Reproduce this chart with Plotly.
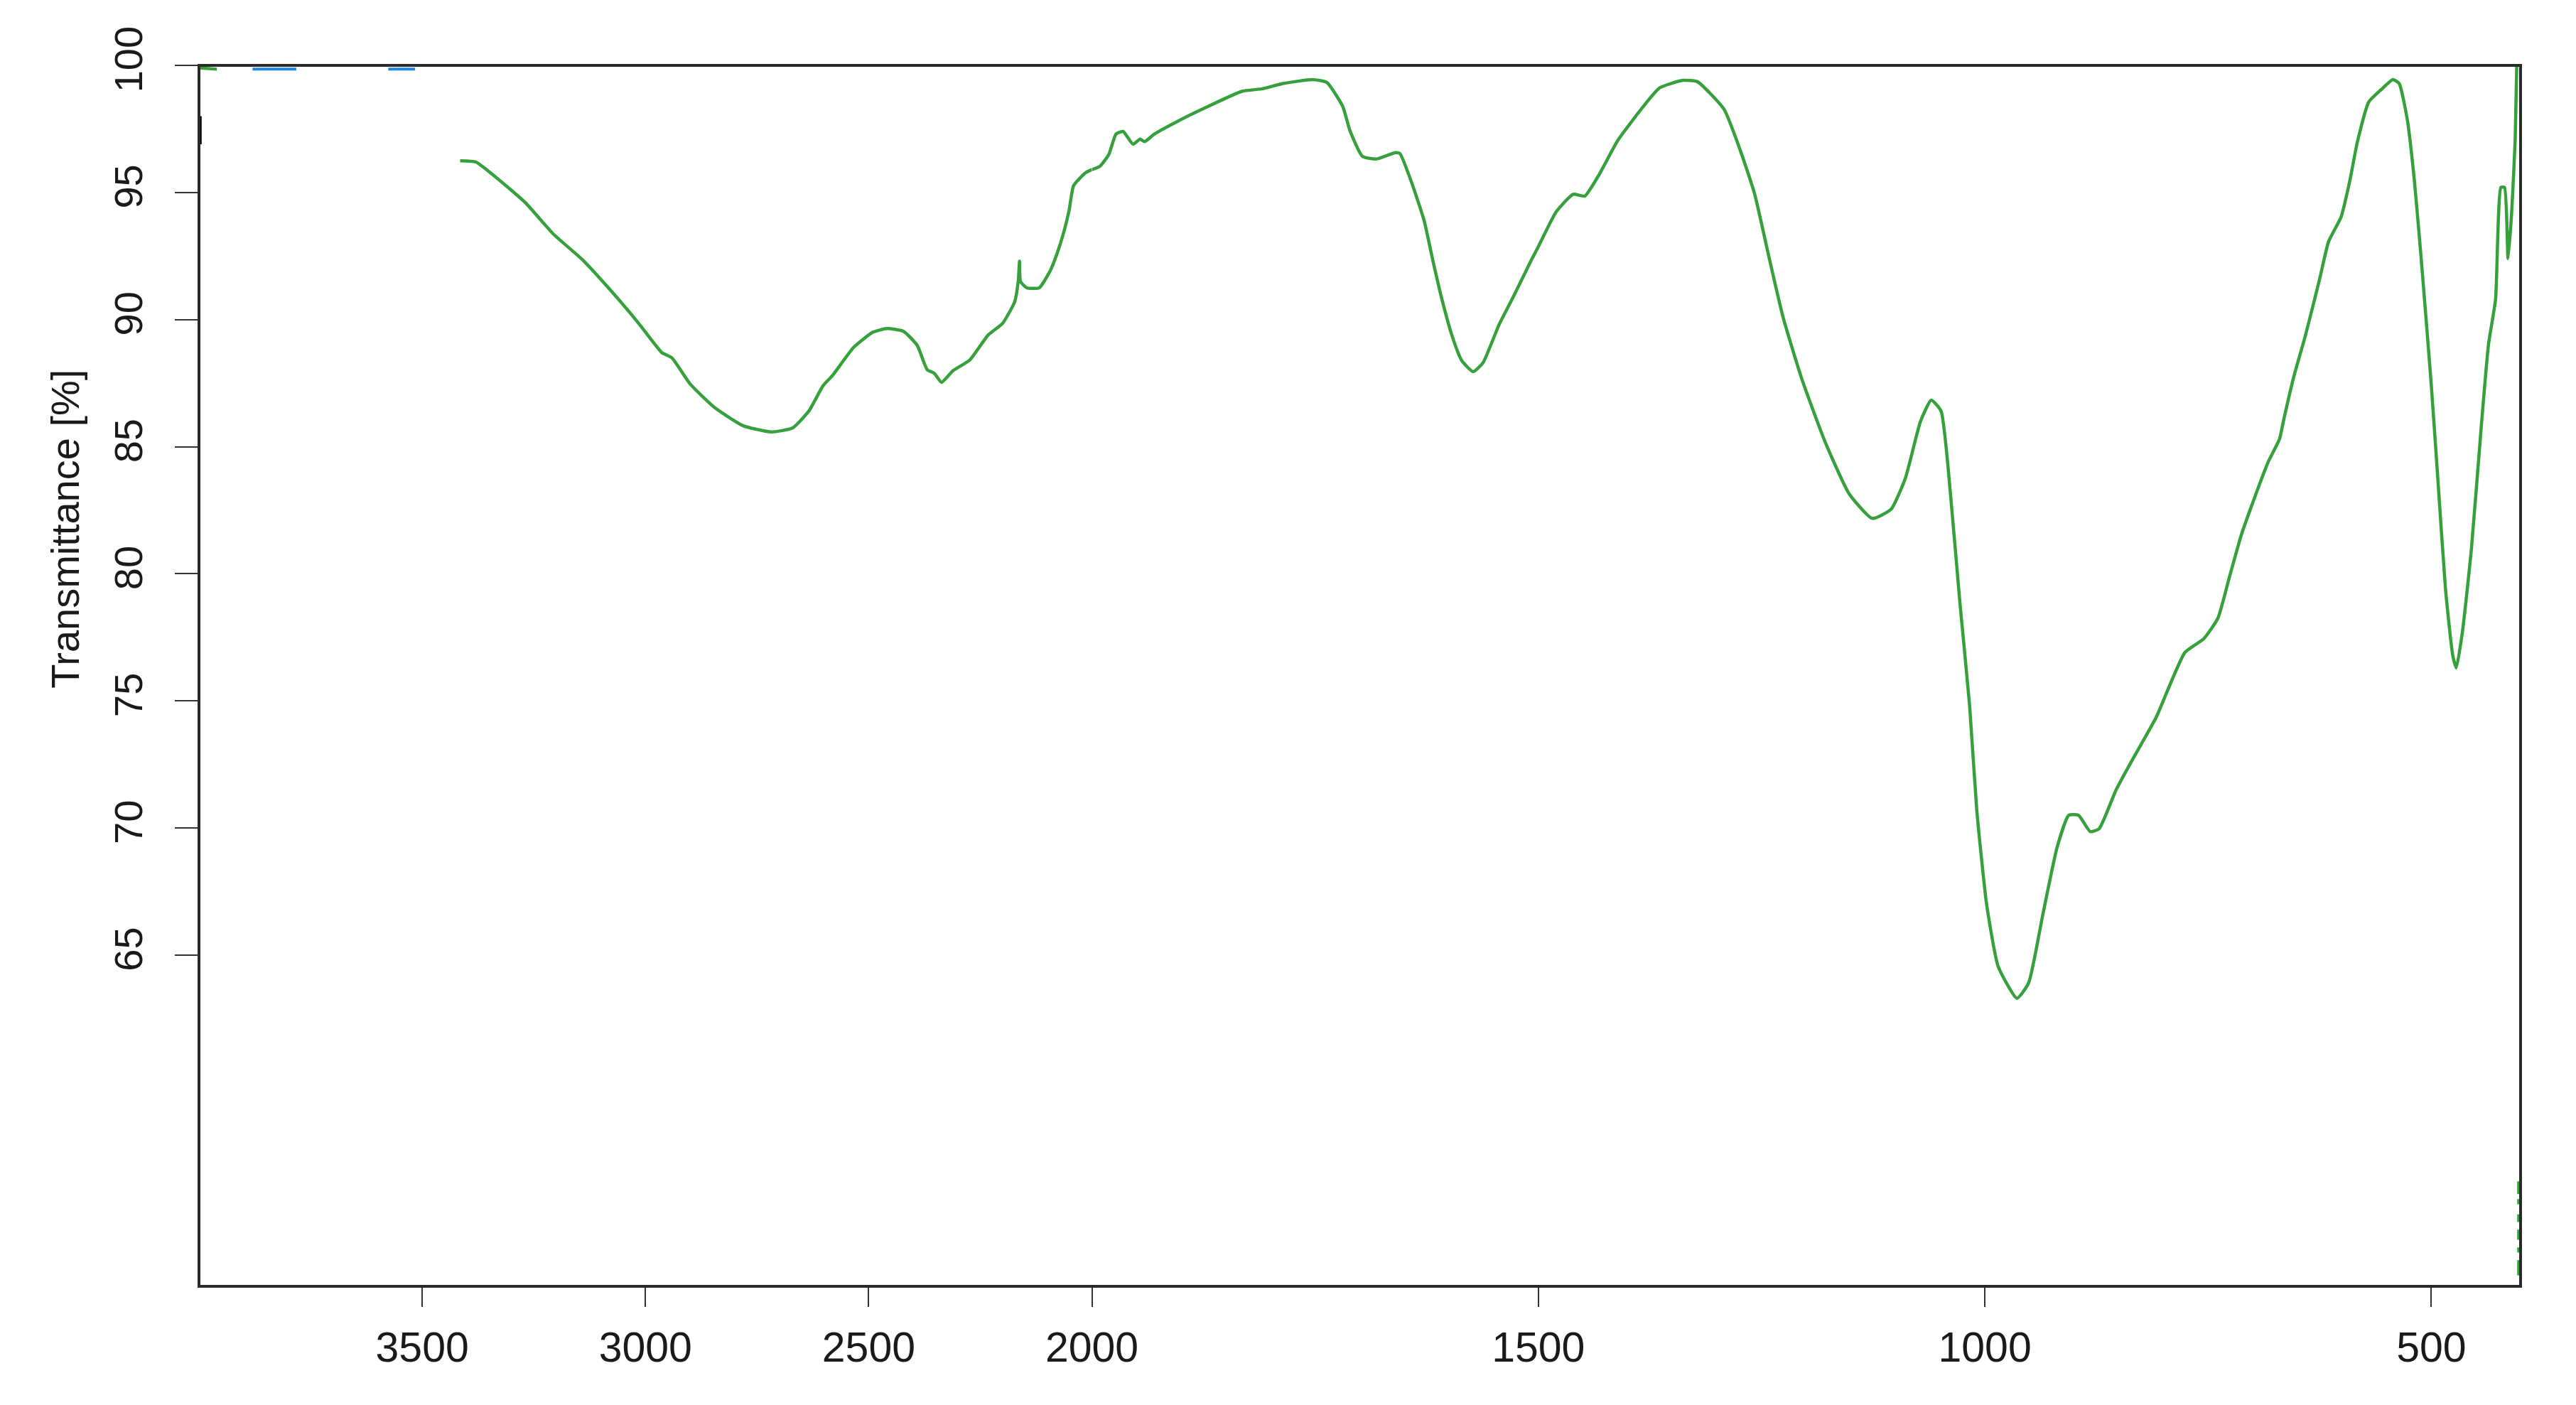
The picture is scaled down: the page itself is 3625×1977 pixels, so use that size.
import plotly.graph_objects as go

# ---------------- data ----------------
# main green FTIR spectrum: wavenumber [cm-1] and transmittance [%]
wn_green = [4000, 3960, None,
            3415, 3380, 3333, 3269, 3206, 3142, 3079, 3015, 2963, 2941, 2899, 2845,
            2782, 2718, 2670, 2634, 2602, 2581, 2534, 2491, 2459, 2422, 2391, 2369,
            2353, 2337, 2311, 2274, 2232, 2200, 2173, 2165, 2162, 2160, 2146, 2118,
            2094, 2078, 2062, 2051, 2041, 2014, 2000, 1991, 1981, 1973, 1965, 1954,
            1946, 1941, 1930, 1904, 1875, 1832, 1809, 1787, 1753, 1737, 1719, 1711,
            1697, 1681, 1660, 1655, 1642, 1628, 1618, 1608, 1597, 1586, 1573, 1562,
            1544, 1528, 1507, 1501, 1480, 1461, 1448, 1432, 1411, 1385, 1364, 1338,
            1322, 1292, 1274, 1258, 1242, 1226, 1205, 1179, 1152, 1126, 1105, 1089,
            1072, 1060, 1049, 1038, 1028, 1017, 1009, 998, 985, 964, 951, 935, 919,
            906, 895, 882, 872, 853, 834, 808, 776, 755, 739, 726, 713, 702, 683,
            670, 665, 654, 641, 625, 615, 601, 591, 583, 570, 556, 543, 536, 527,
            519, 511, 500, 492, 484, 476, 472, 465, 455, 444, 436, 428, 422, 418,
            414, 410, 406, 404, None,
            402, 402, None, 402, 402, None, 402, 402, None, 402, 402, None,
            402, 402, None, 402, 402]
t_green = [99.9, 99.85, None,
           96.25, 96.2, 95.57, 94.6, 93.36, 92.37, 91.17, 89.85, 88.7, 88.5, 87.45, 86.54,
           85.83, 85.58, 85.74, 86.4, 87.4, 87.8, 88.9, 89.5, 89.65, 89.54, 88.98, 88.03,
           87.89, 87.53, 87.99, 88.4, 89.4, 89.85, 90.7, 91.5, 92.3, 91.5, 91.25, 91.25,
           91.9, 92.6, 93.5, 94.3, 95.27, 95.78, 95.9, 96.03, 96.5, 97.3, 97.4, 96.9,
           97.1, 97.0, 97.3, 97.8, 98.3, 98.98, 99.08, 99.28, 99.44, 99.33, 98.38, 97.43,
           96.42, 96.32, 96.57, 96.53, 95.4, 93.9, 92.3, 90.8, 89.4, 88.4, 87.95, 88.3,
           89.8, 90.9, 92.4, 92.8, 94.24, 94.93, 94.86, 95.7, 97.05, 98.27, 99.12, 99.41,
           99.36, 98.27, 96.67, 94.97, 92.5, 90.1, 87.67, 85.2, 83.15, 82.18, 82.54, 83.76,
           86.0, 86.83, 86.4, 82.95, 78.9, 74.8, 70.7, 67.0, 64.55, 63.3, 63.9, 66.6, 69.25,
           70.5, 70.5, 69.86, 69.97, 71.5, 72.73, 74.36, 76.9, 77.44, 78.25, 79.88, 81.5, 82.6, 84.37,
           85.3, 86.1, 87.75, 89.37, 91.6, 93.07, 94.04, 95.5, 96.95, 98.56, 99.05, 99.44, 99.29, 97.9,
           95.5, 92.27, 87.43, 83.4, 79.37, 76.8, 76.3, 77.75, 81.0, 85.8, 89.0, 90.8, 95.2, 95.2,
           92.4, 94.2, 97.1, 100.5, None,
           56.1, 55.6, None, 55.4, 55.2, None, 54.8, 54.5, None, 54.2, 53.8, None,
           53.5, 53.3, None, 53.0, 52.4]

# small off-scale fragments of other spectra visible along the top / left edges
wn_blue = [3880, 3782, None, 3576, 3516]
t_blue = [99.85, 99.85, None, 99.85, 99.85]
wn_black = [3998, 3998]
t_black = [98.0, 96.9]

# axis ticks
x_ticks_high = [3500, 3000, 2500, 2000]
x_ticks_low = [1500, 1000, 500]
y_ticks = [65, 70, 75, 80, 85, 90, 95, 100]

# axis ranges (the wavenumber axis changes scale at 2000 cm-1)
x_range_high = [4000, 2000]
x_range_low = [2000, 400]
y_range = [51.97, 100]

# ---------------- helpers ----------------
def split(xs, ys, lo, hi):
    ox, oy = [], []
    for x, y in zip(xs, ys):
        if x is None:
            ox.append(None); oy.append(None)
        elif lo <= x <= hi:
            ox.append(x); oy.append(y)
        else:
            if ox and ox[-1] is not None:
                ox.append(None); oy.append(None)
    return ox, oy

GREEN = "#35a03c"
FONT = "Liberation Sans, Arial, Helvetica, sans-serif"

fig = go.Figure()

for xs, ys, col, w, shp in [(wn_green, t_green, GREEN, 4.5, "spline"),
                            (wn_blue, t_blue, "#1e88e5", 4, "linear"),
                            (wn_black, t_black, "#000000", 5, "linear")]:
    hx, hy = split(xs, ys, 2000, 4000)
    lx, ly = split(xs, ys, 400, 2000)
    for px, py, xa in [(hx, hy, "x"), (lx, ly, "x2")]:
        fig.add_trace(go.Scatter(x=px, y=py, mode="lines",
                                 line=dict(color=col, width=w, shape=shp, smoothing=0.5),
                                 xaxis=xa, yaxis="y", showlegend=False, connectgaps=False))

split_frac = 2000 / (2000 + 2 * 1600)

axis_common = dict(showgrid=False, zeroline=False, ticks="outside", ticklen=28,
                   tickwidth=2, tickcolor="#333333", showline=False,
                   tickfont=dict(family=FONT, size=59, color="#1a1a1a"),
                   ticklabelstandoff=6)

fig.update_layout(
    width=3617, height=1969,
    paper_bgcolor="white", plot_bgcolor="white",
    margin=dict(l=272, r=68, t=84, b=167),
    xaxis=dict(domain=[0, split_frac], range=x_range_high, anchor="y",
               tickvals=x_ticks_high, ticktext=[str(v) for v in x_ticks_high],
               **axis_common),
    xaxis2=dict(domain=[split_frac, 1], range=x_range_low, anchor="y",
                tickvals=x_ticks_low, ticktext=[str(v) for v in x_ticks_low],
                **axis_common),
    yaxis=dict(domain=[0, 1], range=y_range, tickvals=y_ticks,
               ticktext=[str(v) for v in y_ticks], tickangle=-90,
               showgrid=False, zeroline=False, ticks="outside", ticklen=33,
               tickwidth=2, tickcolor="#333333", showline=False,
               tickfont=dict(family=FONT, size=56, color="#1a1a1a"),
               ticklabelstandoff=24),
    shapes=[dict(type="rect", xref="paper", yref="paper", x0=0, x1=1, y0=0, y1=1,
                 line=dict(color="#2a2a2a", width=4), fillcolor="rgba(0,0,0,0)",
                 layer="above")],
    annotations=[dict(text="Transmittance [%]", xref="paper", yref="paper",
                      x=0, y=0.62, xshift=-188, textangle=-90, showarrow=False,
                      xanchor="center", yanchor="middle",
                      font=dict(family=FONT, size=56, color="#1a1a1a"))],
)

fig.write_html("out.html")
